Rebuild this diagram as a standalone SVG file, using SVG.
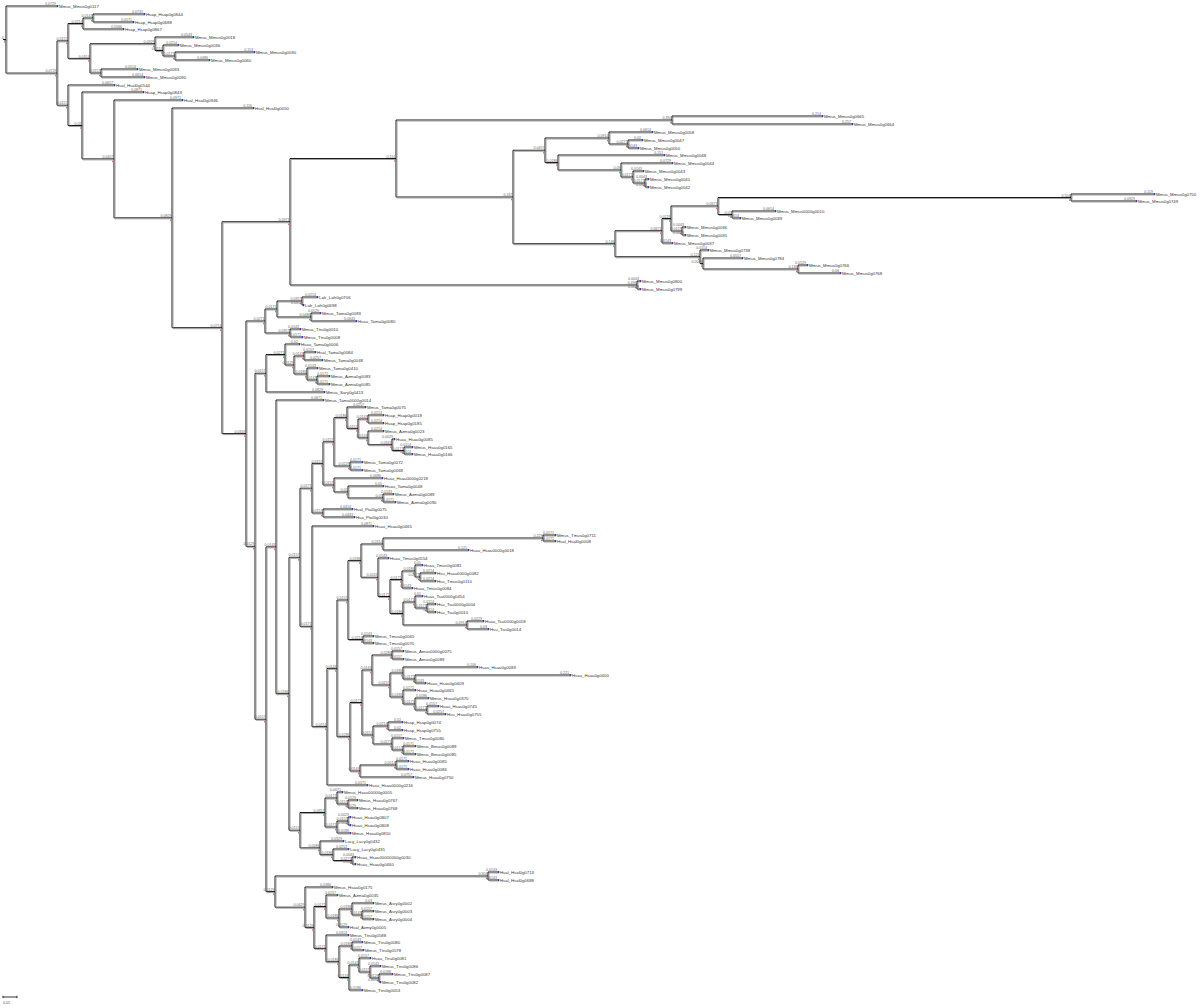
<svg xmlns="http://www.w3.org/2000/svg" width="1200" height="1008" viewBox="0 0 1200 1008">
<defs>
<style>
.e path{fill:none;stroke:#000;stroke-width:0.9}
.t{font-family:"Liberation Sans",Arial,sans-serif;font-size:4.3px;fill:#333}
.b{font-family:"Liberation Sans",Arial,sans-serif;font-size:3.6px;fill:#666;text-anchor:end}
.d{fill:#2233aa}
.r{stroke:#d33;stroke-width:0.7;fill:none}
.sb{stroke:#000;stroke-width:0.8;fill:none}
</style>
<filter id="sh" x="-2%" y="-2%" width="104%" height="104%"><feOffset in="SourceAlpha" dx="0.8" dy="0.8" result="o"/><feFlood flood-color="#9a9a9a"/><feComposite in2="o" operator="in"/><feMerge><feMergeNode/><feMergeNode in="SourceGraphic"/></feMerge></filter>
</defs>
<rect width="1200" height="1008" fill="#fff"/>
<g id="connectors" class="e" filter="url(#sh)">
<path d="M3,39.5H6"/>
<path d="M57,6H6V73.1H57"/>
<path d="M68,40.9H57V105.2H68"/>
<path d="M83,23.5H68V58.4H90"/>
<path d="M93,18H83V29H123"/>
<path d="M144,14H93V22H133"/>
<path d="M155,43.75H90V73H101"/>
<path d="M193,37H155V50.5H163"/>
<path d="M178,45H163V56H175"/>
<path d="M254,52H175V60H209"/>
<path d="M137,69H101V77H144"/>
<path d="M114,85H68V125.5H82"/>
<path d="M143,92H82V158.9H114"/>
<path d="M182,100H114V217.85H172"/>
<path d="M253,108H172V327.7H222"/>
<path d="M290,221.75H222V433.6H246"/>
<path d="M396,158.5H290V285H637"/>
<path d="M672,120H396V197H513"/>
<path d="M822,116H672V124H852"/>
<path d="M545,150.25H513V243.75H615"/>
<path d="M609,138H545V162.5H558"/>
<path d="M652,132H609V144H628"/>
<path d="M642,140H628V148H638"/>
<path d="M664,155H558V170H621"/>
<path d="M672,163H621V177H633"/>
<path d="M643,171H633V183H645"/>
<path d="M648,179H645V187H648"/>
<path d="M662,230.75H615V256.75H700"/>
<path d="M671,218.5H662V243H672"/>
<path d="M718,206H671V231H682"/>
<path d="M1071,197.5H718V214.5H732"/>
<path d="M1154,194H1071V201H1136"/>
<path d="M775,211H732V218H740"/>
<path d="M685,227H682V235H685"/>
<path d="M708,250H700V263.5H703"/>
<path d="M742,258H703V269H798"/>
<path d="M807,265H798V273H840"/>
<path d="M640,281H637V289H640"/>
<path d="M265,321H246V546.3H255"/>
<path d="M277,309H265V333H290"/>
<path d="M302,301H277V317H311"/>
<path d="M317,297H302V305H303"/>
<path d="M320,313H311V321H356"/>
<path d="M300,329H290V337H302"/>
<path d="M266,373.25H255V719.25H266"/>
<path d="M285,354.5H266V392H324"/>
<path d="M299,344H285V365H294"/>
<path d="M304,356H294V374H307"/>
<path d="M315,352H304V360H322"/>
<path d="M317,368H307V380H317"/>
<path d="M329,376H317V384H329"/>
<path d="M276,546.9H266V891.6H275"/>
<path d="M323,400H276V693.7H289"/>
<path d="M300,557.3H289V830.2H300"/>
<path d="M312,488.2H300V626.3H312"/>
<path d="M323,463.4H312V513H323"/>
<path d="M334,441.85H323V485H334"/>
<path d="M347,417.7H334V466H350"/>
<path d="M365,407H347V428.4H358"/>
<path d="M368,419H358V437.9H368"/>
<path d="M383,415H368V423H383"/>
<path d="M383,431H368V444.75H392"/>
<path d="M394,439H392V450.5H404"/>
<path d="M412,447H404V454H412"/>
<path d="M362,462H350V470H362"/>
<path d="M382,478H334V492H348"/>
<path d="M383,486H348V498H383"/>
<path d="M393,494H383V502H395"/>
<path d="M352,509H323V517H354"/>
<path d="M373,526H312V726.7H327"/>
<path d="M337,668.4H327V785H367"/>
<path d="M348,600H337V736.75H350"/>
<path d="M361,560.6H348V639.5H363"/>
<path d="M383,544H361V577.25H378"/>
<path d="M543,538H383V550H468"/>
<path d="M555,535H543V541H555"/>
<path d="M388,558H378V596.5H390"/>
<path d="M402,579.5H390V613.5H403"/>
<path d="M415,571H402V588H412"/>
<path d="M422,565H415V577H420"/>
<path d="M435,573H420V581H435"/>
<path d="M415,602H403V625H467"/>
<path d="M422,596H415V608H427"/>
<path d="M435,604H427V612H435"/>
<path d="M483,621H467V629H488"/>
<path d="M373,636H363V643H373"/>
<path d="M362,702.5H350V771H360"/>
<path d="M372,670H362V735H373"/>
<path d="M392,655H372V685H390"/>
<path d="M403,651H392V659H403"/>
<path d="M403,673H390V697H403"/>
<path d="M477,667H403V679H415"/>
<path d="M570,675H415V683H425"/>
<path d="M415,690H403V704H415"/>
<path d="M428,698H415V710H427"/>
<path d="M438,706H427V714H445"/>
<path d="M388,726H373V744H392"/>
<path d="M402,722H388V730H402"/>
<path d="M403,738H392V750H403"/>
<path d="M415,746H403V754H415"/>
<path d="M396,765H360V777H413"/>
<path d="M408,761H396V769H408"/>
<path d="M325,812.5H300V847.9H320"/>
<path d="M337,798H325V827H337"/>
<path d="M342,792H337V804H348"/>
<path d="M357,800H348V808H357"/>
<path d="M348,821H337V833H350"/>
<path d="M350,817H348V825H350"/>
<path d="M343,841H320V854.75H333"/>
<path d="M348,849H333V860.5H352"/>
<path d="M355,857H352V864H355"/>
<path d="M488,876H275V907.2H305"/>
<path d="M498,872H488V880H498"/>
<path d="M332,887H305V927.4H314"/>
<path d="M326,906.5H314V948.4H326"/>
<path d="M337,895H326V918H339"/>
<path d="M352,909H339V927H348"/>
<path d="M373,903H352V915H362"/>
<path d="M373,911H362V919H373"/>
<path d="M348,935H326V961.75H339"/>
<path d="M352,946H339V977.5H349"/>
<path d="M362,942H352V950H363"/>
<path d="M359,965H349V990H362"/>
<path d="M370,958H359V972H370"/>
<path d="M380,966H370V978H379"/>
<path d="M392,974H379V982H380"/>
</g>
<g id="internal-nodes">
<g id="root" transform="translate(6,39.5)"><text class="b" x="-2" y="-0.9">0</text><path class="r" d="M-1.5,1.8v1.5"/></g>
<g id="nA" transform="translate(57,73.1)"><text class="b" x="-0.5" y="-0.9">0.0729</text><path class="r" d="M-1.5,1.8v1.5"/></g>
<g id="nB" transform="translate(68,40.9)"><text class="b" x="-0.5" y="-0.9">0.0157</text><path class="r" d="M-1.5,1.8v1.5"/></g>
<g id="nC" transform="translate(83,23.5)"><text class="b" x="-0.5" y="-0.9">0.0214</text><path class="r" d="M-1.5,1.8v1.5"/></g>
<g id="nD" transform="translate(93,18)"><text class="b" x="-0.5" y="-0.9">0.0143</text><path class="r" d="M-1.5,1.8v1.5"/></g>
<g id="nE" transform="translate(90,58.4)"><text class="b" x="-0.5" y="-0.9">0.0314</text><path class="r" d="M-1.5,1.8v1.5"/></g>
<g id="nF" transform="translate(155,43.75)"><text class="b" x="-0.5" y="-0.9">0.0929</text><path class="r" d="M-1.5,1.8v1.5"/></g>
<g id="nG" transform="translate(163,50.5)"><text class="b" x="-0.5" y="-0.9">0.0114</text><path class="r" d="M-1.5,1.8v1.5"/></g>
<g id="nH" transform="translate(175,56)"><text class="b" x="-0.5" y="-0.9">0.0171</text><path class="r" d="M-1.5,1.8v1.5"/></g>
<g id="nI" transform="translate(101,73)"><text class="b" x="-0.5" y="-0.9">0.0157</text><path class="r" d="M-1.5,1.8v1.5"/></g>
<g id="nJ" transform="translate(68,105.2)"><text class="b" x="-0.5" y="-0.9">0.0157</text><path class="r" d="M-1.5,1.8v1.5"/></g>
<g id="nK" transform="translate(82,125.5)"><text class="b" x="-0.5" y="-0.9">0.02</text><path class="r" d="M-1.5,1.8v1.5"/></g>
<g id="nL" transform="translate(114,158.9)"><text class="b" x="-0.5" y="-0.9">0.0457</text><path class="r" d="M-1.5,1.8v1.5"/></g>
<g id="nM" transform="translate(172,217.85)"><text class="b" x="-0.5" y="-0.9">0.0829</text><path class="r" d="M-1.5,1.8v1.5"/></g>
<g id="nN" transform="translate(222,327.7)"><text class="b" x="-0.5" y="-0.9">0.0714</text><path class="r" d="M-1.5,1.8v1.5"/></g>
<g id="nO" transform="translate(290,221.75)"><text class="b" x="-0.5" y="-0.9">0.0971</text><path class="r" d="M-1.5,1.8v1.5"/></g>
<g id="nQ" transform="translate(396,158.5)"><text class="b" x="-0.5" y="-0.9">0.151</text><path class="r" d="M-1.5,1.8v1.5"/></g>
<g id="nR" transform="translate(672,120)"><text class="b" x="-0.5" y="-0.9">0.394</text><path class="r" d="M-1.5,1.8v1.5"/></g>
<g id="nS" transform="translate(513,197)"><text class="b" x="-0.5" y="-0.9">0.167</text><path class="r" d="M-1.5,1.8v1.5"/></g>
<g id="nT" transform="translate(545,150.25)"><text class="b" x="-0.5" y="-0.9">0.0457</text><path class="r" d="M-1.5,1.8v1.5"/></g>
<g id="nU" transform="translate(609,138)"><text class="b" x="-0.5" y="-0.9">0.0914</text><path class="r" d="M-1.5,1.8v1.5"/></g>
<g id="nV" transform="translate(628,144)"><text class="b" x="-0.5" y="-0.9">0.0271</text><path class="r" d="M-1.5,1.8v1.5"/></g>
<g id="nZ" transform="translate(558,162.5)"><text class="b" x="-0.5" y="-0.9">0.0186</text><path class="r" d="M-1.5,1.8v1.5"/></g>
<g id="nW" transform="translate(621,170)"><text class="b" x="-0.5" y="-0.9">0.09</text><path class="r" d="M-1.5,1.8v1.5"/></g>
<g id="nX" transform="translate(633,177)"><text class="b" x="-0.5" y="-0.9">0.0171</text><path class="r" d="M-1.5,1.8v1.5"/></g>
<g id="nY" transform="translate(645,183)"><text class="b" x="-0.5" y="-0.9">0.0171</text><path class="r" d="M-1.5,1.8v1.5"/></g>
<g id="nAA" transform="translate(615,243.75)"><text class="b" x="-0.5" y="-0.9">0.146</text><path class="r" d="M-1.5,1.8v1.5"/></g>
<g id="nAB" transform="translate(662,230.75)"><text class="b" x="-0.5" y="-0.9">0.0671</text><path class="r" d="M-1.5,1.8v1.5"/></g>
<g id="nAC" transform="translate(671,218.5)"><text class="b" x="-0.5" y="-0.9">0.0129</text><path class="r" d="M-1.5,1.8v1.5"/></g>
<g id="nAD" transform="translate(718,206)"><text class="b" x="-0.5" y="-0.9">0.0671</text><path class="r" d="M-1.5,1.8v1.5"/></g>
<g id="nAJ" transform="translate(1071,197.5)"><text class="b" x="-0.5" y="-0.9">0.504</text><path class="r" d="M-1.5,1.8v1.5"/></g>
<g id="nAE" transform="translate(732,214.5)"><text class="b" x="-0.5" y="-0.9">0.02</text><path class="r" d="M-1.5,1.8v1.5"/></g>
<g id="nAF" transform="translate(682,231)"><text class="b" x="-0.5" y="-0.9">0.0157</text><path class="r" d="M-1.5,1.8v1.5"/></g>
<g id="nAG" transform="translate(700,256.75)"><text class="b" x="-0.5" y="-0.9">0.121</text><path class="r" d="M-1.5,1.8v1.5"/></g>
<g id="nAI" transform="translate(703,263.5)"><text class="b" x="-0.5" y="-0.9">0.0043</text><path class="r" d="M-1.5,1.8v1.5"/></g>
<g id="nAH" transform="translate(798,269)"><text class="b" x="-0.5" y="-0.9">0.136</text><path class="r" d="M-1.5,1.8v1.5"/></g>
<g id="nAK" transform="translate(637,285)"><text class="b" x="-0.5" y="-0.9">0.496</text><path class="r" d="M-1.5,1.8v1.5"/></g>
<g id="nP" transform="translate(246,433.6)"><text class="b" x="-0.5" y="-0.9">0.0343</text><path class="r" d="M-1.5,1.8v1.5"/></g>
<g id="nPA" transform="translate(265,321)"><text class="b" x="-0.5" y="-0.9">0.0271</text><path class="r" d="M-1.5,1.8v1.5"/></g>
<g id="nPB" transform="translate(277,309)"><text class="b" x="-0.5" y="-0.9">0.0171</text><path class="r" d="M-1.5,1.8v1.5"/></g>
<g id="nPB1" transform="translate(302,301)"><text class="b" x="-0.5" y="-0.9">0.0357</text><path class="r" d="M-1.5,1.8v1.5"/></g>
<g id="nPB2" transform="translate(311,317)"><text class="b" x="-0.5" y="-0.9">0.0486</text><path class="r" d="M-1.5,1.8v1.5"/></g>
<g id="nPC" transform="translate(290,333)"><text class="b" x="-0.5" y="-0.9">0.0357</text><path class="r" d="M-1.5,1.8v1.5"/></g>
<g id="nPD" transform="translate(255,546.3)"><text class="b" x="-0.5" y="-0.9">0.0129</text><path class="r" d="M-1.5,1.8v1.5"/></g>
<g id="nN266" transform="translate(266,373.25)"><text class="b" x="-0.5" y="-0.9">0.0157</text><path class="r" d="M-1.5,1.8v1.5"/></g>
<g id="nN285" transform="translate(285,354.5)"><text class="b" x="-0.5" y="-0.9">0.0271</text><path class="r" d="M-1.5,1.8v1.5"/></g>
<g id="nN294" transform="translate(294,365)"><text class="b" x="-0.5" y="-0.9">0.0129</text><path class="r" d="M-1.5,1.8v1.5"/></g>
<g id="nN304" transform="translate(304,356)"><text class="b" x="-0.5" y="-0.9">0.0143</text><path class="r" d="M-1.5,1.8v1.5"/></g>
<g id="nN307" transform="translate(307,374)"><text class="b" x="-0.5" y="-0.9">0.0186</text><path class="r" d="M-1.5,1.8v1.5"/></g>
<g id="nN317" transform="translate(317,380)"><text class="b" x="-0.5" y="-0.9">0.0143</text><path class="r" d="M-1.5,1.8v1.5"/></g>
<g id="nPE" transform="translate(266,719.25)"><text class="b" x="-0.5" y="-0.9">0.0157</text><path class="r" d="M-1.5,1.8v1.5"/></g>
<g id="nPF" transform="translate(276,546.9)"><text class="b" x="-0.5" y="-0.9">0.0143</text><path class="r" d="M-1.5,1.8v1.5"/></g>
<g id="nPG" transform="translate(289,693.7)"><text class="b" x="-0.5" y="-0.9">0.0186</text><path class="r" d="M-1.5,1.8v1.5"/></g>
<g id="nPH" transform="translate(300,557.3)"><text class="b" x="-0.5" y="-0.9">0.0157</text><path class="r" d="M-1.5,1.8v1.5"/></g>
<g id="nX14" transform="translate(312,488.2)"><text class="b" x="-0.5" y="-0.9">0.0171</text><path class="r" d="M-1.5,1.8v1.5"/></g>
<g id="nX12" transform="translate(323,463.4)"><text class="b" x="-0.5" y="-0.9">0.0157</text><path class="r" d="M-1.5,1.8v1.5"/></g>
<g id="nX8" transform="translate(334,441.85)"><text class="b" x="-0.5" y="-0.9">0.0157</text><path class="r" d="M-1.5,1.8v1.5"/></g>
<g id="nX1" transform="translate(347,417.7)"><text class="b" x="-0.5" y="-0.9">0.0186</text><path class="r" d="M-1.5,1.8v1.5"/></g>
<g id="nX2" transform="translate(358,428.4)"><text class="b" x="-0.5" y="-0.9">0.0157</text><path class="r" d="M-1.5,1.8v1.5"/></g>
<g id="nX3" transform="translate(368,419)"><text class="b" x="-0.5" y="-0.9">0.0143</text><path class="r" d="M-1.5,1.8v1.5"/></g>
<g id="nX4" transform="translate(368,437.9)"><text class="b" x="-0.5" y="-0.9">0.0143</text><path class="r" d="M-1.5,1.8v1.5"/></g>
<g id="nX5" transform="translate(392,444.75)"><text class="b" x="-0.5" y="-0.9">0.0343</text><path class="r" d="M-1.5,1.8v1.5"/></g>
<g id="nX6" transform="translate(404,450.5)"><text class="b" x="-0.5" y="-0.9">0.0171</text><path class="r" d="M-1.5,1.8v1.5"/></g>
<g id="nX7" transform="translate(350,466)"><text class="b" x="-0.5" y="-0.9">0.0229</text><path class="r" d="M-1.5,1.8v1.5"/></g>
<g id="nX11" transform="translate(334,485)"><text class="b" x="-0.5" y="-0.9">0.0157</text><path class="r" d="M-1.5,1.8v1.5"/></g>
<g id="nX10" transform="translate(348,492)"><text class="b" x="-0.5" y="-0.9">0.02</text><path class="r" d="M-1.5,1.8v1.5"/></g>
<g id="nX9" transform="translate(383,498)"><text class="b" x="-0.5" y="-0.9">0.05</text><path class="r" d="M-1.5,1.8v1.5"/></g>
<g id="nX13" transform="translate(323,513)"><text class="b" x="-0.5" y="-0.9">0.0157</text><path class="r" d="M-1.5,1.8v1.5"/></g>
<g id="nPI" transform="translate(312,626.3)"><text class="b" x="-0.5" y="-0.9">0.0171</text><path class="r" d="M-1.5,1.8v1.5"/></g>
<g id="nPJ" transform="translate(327,726.7)"><text class="b" x="-0.5" y="-0.9">0.0214</text><path class="r" d="M-1.5,1.8v1.5"/></g>
<g id="nPK" transform="translate(337,668.4)"><text class="b" x="-0.5" y="-0.9">0.0143</text><path class="r" d="M-1.5,1.8v1.5"/></g>
<g id="nPL" transform="translate(348,600)"><text class="b" x="-0.5" y="-0.9">0.0157</text><path class="r" d="M-1.5,1.8v1.5"/></g>
<g id="nPU" transform="translate(361,560.6)"><text class="b" x="-0.5" y="-0.9">0.0186</text><path class="r" d="M-1.5,1.8v1.5"/></g>
<g id="nPR" transform="translate(383,544)"><text class="b" x="-0.5" y="-0.9">0.0314</text><path class="r" d="M-1.5,1.8v1.5"/></g>
<g id="nPS" transform="translate(543,538)"><text class="b" x="-0.5" y="-0.9">0.229</text><path class="r" d="M-1.5,1.8v1.5"/></g>
<g id="nPT" transform="translate(378,577.25)"><text class="b" x="-0.5" y="-0.9">0.0243</text><path class="r" d="M-1.5,1.8v1.5"/></g>
<g id="nPV" transform="translate(390,596.5)"><text class="b" x="-0.5" y="-0.9">0.0171</text><path class="r" d="M-1.5,1.8v1.5"/></g>
<g id="nPW" transform="translate(402,579.5)"><text class="b" x="-0.5" y="-0.9">0.0171</text><path class="r" d="M-1.5,1.8v1.5"/></g>
<g id="nPX" transform="translate(415,571)"><text class="b" x="-0.5" y="-0.9">0.0186</text><path class="r" d="M-1.5,1.8v1.5"/></g>
<g id="nPY" transform="translate(420,577)"><text class="b" x="-0.5" y="-0.9">0.0071</text><path class="r" d="M-1.5,1.8v1.5"/></g>
<g id="nPZ" transform="translate(403,613.5)"><text class="b" x="-0.5" y="-0.9">0.0186</text><path class="r" d="M-1.5,1.8v1.5"/></g>
<g id="nQA" transform="translate(415,602)"><text class="b" x="-0.5" y="-0.9">0.0171</text><path class="r" d="M-1.5,1.8v1.5"/></g>
<g id="nQB" transform="translate(427,608)"><text class="b" x="-0.5" y="-0.9">0.0171</text><path class="r" d="M-1.5,1.8v1.5"/></g>
<g id="nQC" transform="translate(467,625)"><text class="b" x="-0.5" y="-0.9">0.0914</text><path class="r" d="M-1.5,1.8v1.5"/></g>
<g id="nQD" transform="translate(363,639.5)"><text class="b" x="-0.5" y="-0.9">0.0214</text><path class="r" d="M-1.5,1.8v1.5"/></g>
<g id="nPM" transform="translate(350,736.75)"><text class="b" x="-0.5" y="-0.9">0.0186</text><path class="r" d="M-1.5,1.8v1.5"/></g>
<g id="nQQ" transform="translate(362,702.5)"><text class="b" x="-0.5" y="-0.9">0.0171</text><path class="r" d="M-1.5,1.8v1.5"/></g>
<g id="nQL" transform="translate(372,670)"><text class="b" x="-0.5" y="-0.9">0.0143</text><path class="r" d="M-1.5,1.8v1.5"/></g>
<g id="nQK" transform="translate(392,655)"><text class="b" x="-0.5" y="-0.9">0.0286</text><path class="r" d="M-1.5,1.8v1.5"/></g>
<g id="nQJ" transform="translate(390,685)"><text class="b" x="-0.5" y="-0.9">0.0257</text><path class="r" d="M-1.5,1.8v1.5"/></g>
<g id="nQH" transform="translate(403,673)"><text class="b" x="-0.5" y="-0.9">0.0186</text><path class="r" d="M-1.5,1.8v1.5"/></g>
<g id="nQI" transform="translate(415,679)"><text class="b" x="-0.5" y="-0.9">0.0171</text><path class="r" d="M-1.5,1.8v1.5"/></g>
<g id="nQG" transform="translate(403,697)"><text class="b" x="-0.5" y="-0.9">0.0186</text><path class="r" d="M-1.5,1.8v1.5"/></g>
<g id="nQF" transform="translate(415,704)"><text class="b" x="-0.5" y="-0.9">0.0171</text><path class="r" d="M-1.5,1.8v1.5"/></g>
<g id="nQE" transform="translate(427,710)"><text class="b" x="-0.5" y="-0.9">0.0171</text><path class="r" d="M-1.5,1.8v1.5"/></g>
<g id="nQP" transform="translate(373,735)"><text class="b" x="-0.5" y="-0.9">0.0157</text><path class="r" d="M-1.5,1.8v1.5"/></g>
<g id="nQO" transform="translate(388,726)"><text class="b" x="-0.5" y="-0.9">0.0214</text><path class="r" d="M-1.5,1.8v1.5"/></g>
<g id="nQN" transform="translate(392,744)"><text class="b" x="-0.5" y="-0.9">0.0271</text><path class="r" d="M-1.5,1.8v1.5"/></g>
<g id="nQM" transform="translate(403,750)"><text class="b" x="-0.5" y="-0.9">0.0157</text><path class="r" d="M-1.5,1.8v1.5"/></g>
<g id="nQS" transform="translate(360,771)"><text class="b" x="-0.5" y="-0.9">0.0143</text><path class="r" d="M-1.5,1.8v1.5"/></g>
<g id="nQR" transform="translate(396,765)"><text class="b" x="-0.5" y="-0.9">0.0514</text><path class="r" d="M-1.5,1.8v1.5"/></g>
<g id="nPN" transform="translate(300,830.2)"><text class="b" x="-0.5" y="-0.9">0.0157</text><path class="r" d="M-1.5,1.8v1.5"/></g>
<g id="nPO" transform="translate(325,812.5)"><text class="b" x="-0.5" y="-0.9">0.0357</text><path class="r" d="M-1.5,1.8v1.5"/></g>
<g id="nQU" transform="translate(337,798)"><text class="b" x="-0.5" y="-0.9">0.0171</text><path class="r" d="M-1.5,1.8v1.5"/></g>
<g id="nQT" transform="translate(348,804)"><text class="b" x="-0.5" y="-0.9">0.0157</text><path class="r" d="M-1.5,1.8v1.5"/></g>
<g id="nQW" transform="translate(337,827)"><text class="b" x="-0.5" y="-0.9">0.0171</text><path class="r" d="M-1.5,1.8v1.5"/></g>
<g id="nQV" transform="translate(348,821)"><text class="b" x="-0.5" y="-0.9">0.0157</text><path class="r" d="M-1.5,1.8v1.5"/></g>
<g id="nPP" transform="translate(320,847.9)"><text class="b" x="-0.5" y="-0.9">0.0286</text><path class="r" d="M-1.5,1.8v1.5"/></g>
<g id="nQY" transform="translate(333,854.75)"><text class="b" x="-0.5" y="-0.9">0.0186</text><path class="r" d="M-1.5,1.8v1.5"/></g>
<g id="nQX" transform="translate(352,860.5)"><text class="b" x="-0.5" y="-0.9">0.0271</text><path class="r" d="M-1.5,1.8v1.5"/></g>
<g id="nPQ" transform="translate(275,891.6)"><text class="b" x="-0.5" y="-0.9">0.0129</text><path class="r" d="M-1.5,1.8v1.5"/></g>
<g id="nQZ" transform="translate(488,876)"><text class="b" x="-0.5" y="-0.9">0.304</text><path class="r" d="M-1.5,1.8v1.5"/></g>
<g id="nR305" transform="translate(305,907.2)"><text class="b" x="-0.5" y="-0.9">0.0429</text><path class="r" d="M-1.5,1.8v1.5"/></g>
<g id="nR314" transform="translate(314,927.4)"><text class="b" x="-0.5" y="-0.9">0.0129</text><path class="r" d="M-1.5,1.8v1.5"/></g>
<g id="nR326" transform="translate(326,906.5)"><text class="b" x="-0.5" y="-0.9">0.0171</text><path class="r" d="M-1.5,1.8v1.5"/></g>
<g id="nR339" transform="translate(339,918)"><text class="b" x="-0.5" y="-0.9">0.0186</text><path class="r" d="M-1.5,1.8v1.5"/></g>
<g id="nR352" transform="translate(352,909)"><text class="b" x="-0.5" y="-0.9">0.0186</text><path class="r" d="M-1.5,1.8v1.5"/></g>
<g id="nR362" transform="translate(362,915)"><text class="b" x="-0.5" y="-0.9">0.0143</text><path class="r" d="M-1.5,1.8v1.5"/></g>
<g id="nB1" transform="translate(326,948.4)"><text class="b" x="-0.5" y="-0.9">0.0171</text><path class="r" d="M-1.5,1.8v1.5"/></g>
<g id="nB2" transform="translate(339,961.75)"><text class="b" x="-0.5" y="-0.9">0.0186</text><path class="r" d="M-1.5,1.8v1.5"/></g>
<g id="nB3" transform="translate(352,946)"><text class="b" x="-0.5" y="-0.9">0.0186</text><path class="r" d="M-1.5,1.8v1.5"/></g>
<g id="nB4" transform="translate(349,977.5)"><text class="b" x="-0.5" y="-0.9">0.0143</text><path class="r" d="M-1.5,1.8v1.5"/></g>
<g id="nB5" transform="translate(359,965)"><text class="b" x="-0.5" y="-0.9">0.0143</text><path class="r" d="M-1.5,1.8v1.5"/></g>
<g id="nB6" transform="translate(370,972)"><text class="b" x="-0.5" y="-0.9">0.0157</text><path class="r" d="M-1.5,1.8v1.5"/></g>
<g id="nB7" transform="translate(379,978)"><text class="b" x="-0.5" y="-0.9">0.0129</text><path class="r" d="M-1.5,1.8v1.5"/></g>
</g>
<g id="tips">
<g id="t1" transform="translate(57,6)"><circle class="d" cx="0.6" r="0.9"/><text class="b" x="-1" y="-0.9">0.0729</text><text class="t" x="2" y="1.6">Mmus_Mmus0g0117</text></g>
<g id="t2" transform="translate(144,14)"><circle class="d" cx="0.6" r="0.9"/><text class="b" x="-1" y="-0.9">0.0731</text><text class="t" x="2" y="1.6">Hsap_Hsap0g0844</text></g>
<g id="t3" transform="translate(133,22)"><circle class="d" cx="0.6" r="0.9"/><text class="b" x="-1" y="-0.9">0.0571</text><text class="t" x="2" y="1.6">Hsap_Hsap0g0688</text></g>
<g id="t4" transform="translate(123,29)"><circle class="d" cx="0.6" r="0.9"/><text class="b" x="-1" y="-0.9">0.0566</text><text class="t" x="2" y="1.6">Hsap_Hsap0g0867</text></g>
<g id="t5" transform="translate(193,37)"><circle class="d" cx="0.6" r="0.9"/><text class="b" x="-1" y="-0.9">0.0543</text><text class="t" x="2" y="1.6">Mmus_Mmus0g0018</text></g>
<g id="t6" transform="translate(178,45)"><circle class="d" cx="0.6" r="0.9"/><text class="b" x="-1" y="-0.9">0.0214</text><text class="t" x="2" y="1.6">Mmus_Mmus0g0036</text></g>
<g id="t7" transform="translate(254,52)"><circle class="d" cx="0.6" r="0.9"/><text class="b" x="-1" y="-0.9">0.113</text><text class="t" x="2" y="1.6">Mmus_Mmus0g0030</text></g>
<g id="t8" transform="translate(209,60)"><circle class="d" cx="0.6" r="0.9"/><text class="b" x="-1" y="-0.9">0.0486</text><text class="t" x="2" y="1.6">Mmus_Mmus0g0060</text></g>
<g id="t9" transform="translate(137,69)"><circle class="d" cx="0.6" r="0.9"/><text class="b" x="-1" y="-0.9">0.0514</text><text class="t" x="2" y="1.6">Mmus_Mmus0g0093</text></g>
<g id="t10" transform="translate(144,77)"><circle class="d" cx="0.6" r="0.9"/><text class="b" x="-1" y="-0.9">0.0614</text><text class="t" x="2" y="1.6">Mmus_Mmus0g0090</text></g>
<g id="t11" transform="translate(114,85)"><circle class="d" cx="0.6" r="0.9"/><text class="b" x="-1" y="-0.9">0.0657</text><text class="t" x="2" y="1.6">Hsal_Hsal0g0544</text></g>
<g id="t12" transform="translate(143,92)"><circle class="d" cx="0.6" r="0.9"/><text class="b" x="-1" y="-0.9">0.0871</text><text class="t" x="2" y="1.6">Hsap_Hsap0g0843</text></g>
<g id="t13" transform="translate(182,100)"><circle class="d" cx="0.6" r="0.9"/><text class="b" x="-1" y="-0.9">0.0971</text><text class="t" x="2" y="1.6">Hsal_Hsal0g0946</text></g>
<g id="t14" transform="translate(253,108)"><circle class="d" cx="0.6" r="0.9"/><text class="b" x="-1" y="-0.9">0.116</text><text class="t" x="2" y="1.6">Hsal_Hsal0g0050</text></g>
<g id="t15" transform="translate(822,116)"><circle class="d" cx="0.6" r="0.9"/><text class="b" x="-1" y="-0.9">0.214</text><text class="t" x="2" y="1.6">Mmus_Mmus0g0665</text></g>
<g id="t16" transform="translate(852,124)"><circle class="d" cx="0.6" r="0.9"/><text class="b" x="-1" y="-0.9">0.257</text><text class="t" x="2" y="1.6">Mmus_Mmus0g0664</text></g>
<g id="t17" transform="translate(652,132)"><circle class="d" cx="0.6" r="0.9"/><text class="b" x="-1" y="-0.9">0.0614</text><text class="t" x="2" y="1.6">Mmus_Mmus0g0058</text></g>
<g id="t18" transform="translate(642,140)"><circle class="d" cx="0.6" r="0.9"/><text class="b" x="-1" y="-0.9">0.02</text><text class="t" x="2" y="1.6">Mmus_Mmus0g0047</text></g>
<g id="t19" transform="translate(638,148)"><circle class="d" cx="0.6" r="0.9"/><text class="b" x="-1" y="-0.9">0.0143</text><text class="t" x="2" y="1.6">Mmus_Mmus0g0050</text></g>
<g id="t20" transform="translate(664,155)"><circle class="d" cx="0.6" r="0.9"/><text class="b" x="-1" y="-0.9">0.151</text><text class="t" x="2" y="1.6">Mmus_Mmus0g0048</text></g>
<g id="t21" transform="translate(672,163)"><circle class="d" cx="0.6" r="0.9"/><text class="b" x="-1" y="-0.9">0.0729</text><text class="t" x="2" y="1.6">Mmus_Mmus0g0044</text></g>
<g id="t22" transform="translate(643,171)"><circle class="d" cx="0.6" r="0.9"/><text class="b" x="-1" y="-0.9">0.0143</text><text class="t" x="2" y="1.6">Mmus_Mmus0g0043</text></g>
<g id="t23" transform="translate(648,179)"><circle class="d" cx="0.6" r="0.9"/><text class="b" x="-1" y="-0.9">0.0043</text><text class="t" x="2" y="1.6">Mmus_Mmus0g0041</text></g>
<g id="t24" transform="translate(648,187)"><circle class="d" cx="0.6" r="0.9"/><text class="b" x="-1" y="-0.9">0.0043</text><text class="t" x="2" y="1.6">Mmus_Mmus0g0042</text></g>
<g id="t25" transform="translate(1154,194)"><circle class="d" cx="0.6" r="0.9"/><text class="b" x="-1" y="-0.9">0.119</text><text class="t" x="2" y="1.6">Mmus_Mmus0g0750</text></g>
<g id="t26" transform="translate(1136,201)"><circle class="d" cx="0.6" r="0.9"/><text class="b" x="-1" y="-0.9">0.0929</text><text class="t" x="2" y="1.6">Mmus_Mmus0g0749</text></g>
<g id="t27" transform="translate(775,211)"><circle class="d" cx="0.6" r="0.9"/><text class="b" x="-1" y="-0.9">0.0614</text><text class="t" x="2" y="1.6">Mmus_Mmus0000g0010</text></g>
<g id="t28" transform="translate(740,218)"><circle class="d" cx="0.6" r="0.9"/><text class="b" x="-1" y="-0.9">0.0114</text><text class="t" x="2" y="1.6">Mmus_Mmus0g0039</text></g>
<g id="t29" transform="translate(685,227)"><circle class="d" cx="0.6" r="0.9"/><text class="b" x="-1" y="-0.9">0.0043</text><text class="t" x="2" y="1.6">Mmus_Mmus0g0036</text></g>
<g id="t30" transform="translate(685,235)"><circle class="d" cx="0.6" r="0.9"/><text class="b" x="-1" y="-0.9">0.0043</text><text class="t" x="2" y="1.6">Mmus_Mmus0g0035</text></g>
<g id="t31" transform="translate(672,243)"><circle class="d" cx="0.6" r="0.9"/><text class="b" x="-1" y="-0.9">0.0143</text><text class="t" x="2" y="1.6">Mmus_Mmus0g0037</text></g>
<g id="t32" transform="translate(708,250)"><circle class="d" cx="0.6" r="0.9"/><text class="b" x="-1" y="-0.9">0.0114</text><text class="t" x="2" y="1.6">Mmus_Mmus0g0738</text></g>
<g id="t33" transform="translate(742,258)"><circle class="d" cx="0.6" r="0.9"/><text class="b" x="-1" y="-0.9">0.0557</text><text class="t" x="2" y="1.6">Mmus_Mmus0g0784</text></g>
<g id="t34" transform="translate(807,265)"><circle class="d" cx="0.6" r="0.9"/><text class="b" x="-1" y="-0.9">0.0129</text><text class="t" x="2" y="1.6">Mmus_Mmus0g0766</text></g>
<g id="t35" transform="translate(840,273)"><circle class="d" cx="0.6" r="0.9"/><text class="b" x="-1" y="-0.9">0.06</text><text class="t" x="2" y="1.6">Mmus_Mmus0g0768</text></g>
<g id="t36" transform="translate(640,281)"><circle class="d" cx="0.6" r="0.9"/><text class="b" x="-1" y="-0.9">0.0043</text><text class="t" x="2" y="1.6">Mmus_Mmus0g0800</text></g>
<g id="t37" transform="translate(640,289)"><circle class="d" cx="0.6" r="0.9"/><text class="b" x="-1" y="-0.9">0.0043</text><text class="t" x="2" y="1.6">Mmus_Mmus0g0799</text></g>
<g id="t38" transform="translate(317,297)"><circle class="d" cx="0.6" r="0.9"/><text class="b" x="-1" y="-0.9">0.0214</text><text class="t" x="2" y="1.6">Lafr_Lafr0g0706</text></g>
<g id="t39" transform="translate(303,305)"><circle class="d" cx="0.6" r="0.9"/><text class="b" x="-1" y="-0.9">0.0014</text><text class="t" x="2" y="1.6">Lafr_Lafr0g0698</text></g>
<g id="t40" transform="translate(320,313)"><circle class="d" cx="0.6" r="0.9"/><text class="b" x="-1" y="-0.9">0.0129</text><text class="t" x="2" y="1.6">Mmus_Tama0g0083</text></g>
<g id="t41" transform="translate(356,321)"><circle class="d" cx="0.6" r="0.9"/><text class="b" x="-1" y="-0.9">0.0643</text><text class="t" x="2" y="1.6">Hsau_Tama0g0080</text></g>
<g id="t42" transform="translate(300,329)"><circle class="d" cx="0.6" r="0.9"/><text class="b" x="-1" y="-0.9">0.0143</text><text class="t" x="2" y="1.6">Mmus_Ttru0g0010</text></g>
<g id="t43" transform="translate(302,337)"><circle class="d" cx="0.6" r="0.9"/><text class="b" x="-1" y="-0.9">0.0171</text><text class="t" x="2" y="1.6">Mmus_Ttru0g0008</text></g>
<g id="t44" transform="translate(299,344)"><circle class="d" cx="0.6" r="0.9"/><text class="b" x="-1" y="-0.9">0.02</text><text class="t" x="2" y="1.6">Hsau_Tama0g0006</text></g>
<g id="t45" transform="translate(315,352)"><circle class="d" cx="0.6" r="0.9"/><text class="b" x="-1" y="-0.9">0.0157</text><text class="t" x="2" y="1.6">Hsal_Tama0g0084</text></g>
<g id="t46" transform="translate(322,360)"><circle class="d" cx="0.6" r="0.9"/><text class="b" x="-1" y="-0.9">0.0257</text><text class="t" x="2" y="1.6">Mmus_Tama0g0048</text></g>
<g id="t47" transform="translate(317,368)"><circle class="d" cx="0.6" r="0.9"/><text class="b" x="-1" y="-0.9">0.0143</text><text class="t" x="2" y="1.6">Mmus_Tama0g0410</text></g>
<g id="t48" transform="translate(329,376)"><circle class="d" cx="0.6" r="0.9"/><text class="b" x="-1" y="-0.9">0.0171</text><text class="t" x="2" y="1.6">Mmus_Azma0g0083</text></g>
<g id="t49" transform="translate(329,384)"><circle class="d" cx="0.6" r="0.9"/><text class="b" x="-1" y="-0.9">0.0171</text><text class="t" x="2" y="1.6">Mmus_Azma0g0085</text></g>
<g id="t50" transform="translate(324,392)"><circle class="d" cx="0.6" r="0.9"/><text class="b" x="-1" y="-0.9">0.0829</text><text class="t" x="2" y="1.6">Mmus_Sary0g0413</text></g>
<g id="t51" transform="translate(323,400)"><circle class="d" cx="0.6" r="0.9"/><text class="b" x="-1" y="-0.9">0.0671</text><text class="t" x="2" y="1.6">Mmus_Tama0000g0014</text></g>
<g id="t52" transform="translate(365,407)"><circle class="d" cx="0.6" r="0.9"/><text class="b" x="-1" y="-0.9">0.0257</text><text class="t" x="2" y="1.6">Mmus_Tama0g0075</text></g>
<g id="t53" transform="translate(383,415)"><circle class="d" cx="0.6" r="0.9"/><text class="b" x="-1" y="-0.9">0.0214</text><text class="t" x="2" y="1.6">Hsap_Hsap0g0018</text></g>
<g id="t54" transform="translate(383,423)"><circle class="d" cx="0.6" r="0.9"/><text class="b" x="-1" y="-0.9">0.0214</text><text class="t" x="2" y="1.6">Hsap_Hsap0g0185</text></g>
<g id="t55" transform="translate(383,431)"><circle class="d" cx="0.6" r="0.9"/><text class="b" x="-1" y="-0.9">0.0214</text><text class="t" x="2" y="1.6">Mmus_Azma0g0023</text></g>
<g id="t56" transform="translate(394,439)"><circle class="d" cx="0.6" r="0.9"/><text class="b" x="-1" y="-0.9">0.0029</text><text class="t" x="2" y="1.6">Hsau_Hsau0g0085</text></g>
<g id="t57" transform="translate(412,447)"><circle class="d" cx="0.6" r="0.9"/><text class="b" x="-1" y="-0.9">0.0114</text><text class="t" x="2" y="1.6">Mmus_Hsau0g0165</text></g>
<g id="t58" transform="translate(412,454)"><circle class="d" cx="0.6" r="0.9"/><text class="b" x="-1" y="-0.9">0.0114</text><text class="t" x="2" y="1.6">Mmus_Hsau0g0166</text></g>
<g id="t59" transform="translate(362,462)"><circle class="d" cx="0.6" r="0.9"/><text class="b" x="-1" y="-0.9">0.0171</text><text class="t" x="2" y="1.6">Mmus_Tama0g0072</text></g>
<g id="t60" transform="translate(362,470)"><circle class="d" cx="0.6" r="0.9"/><text class="b" x="-1" y="-0.9">0.0171</text><text class="t" x="2" y="1.6">Mmus_Tama0g0068</text></g>
<g id="t61" transform="translate(382,478)"><circle class="d" cx="0.6" r="0.9"/><text class="b" x="-1" y="-0.9">0.0686</text><text class="t" x="2" y="1.6">Hsau_Hsau0000g0218</text></g>
<g id="t62" transform="translate(383,486)"><circle class="d" cx="0.6" r="0.9"/><text class="b" x="-1" y="-0.9">0.05</text><text class="t" x="2" y="1.6">Hsau_Tama0g0048</text></g>
<g id="t63" transform="translate(393,494)"><circle class="d" cx="0.6" r="0.9"/><text class="b" x="-1" y="-0.9">0.0143</text><text class="t" x="2" y="1.6">Mmus_Azma0g0089</text></g>
<g id="t64" transform="translate(395,502)"><circle class="d" cx="0.6" r="0.9"/><text class="b" x="-1" y="-0.9">0.0171</text><text class="t" x="2" y="1.6">Mmus_Azma0g0090</text></g>
<g id="t65" transform="translate(352,509)"><circle class="d" cx="0.6" r="0.9"/><text class="b" x="-1" y="-0.9">0.0414</text><text class="t" x="2" y="1.6">Hsal_Ptal0g0075</text></g>
<g id="t66" transform="translate(354,517)"><circle class="d" cx="0.6" r="0.9"/><text class="b" x="-1" y="-0.9">0.0443</text><text class="t" x="2" y="1.6">Hsa_Ptal0g0030</text></g>
<g id="t67" transform="translate(373,526)"><circle class="d" cx="0.6" r="0.9"/><text class="b" x="-1" y="-0.9">0.0871</text><text class="t" x="2" y="1.6">Hsau_Hsau0g0465</text></g>
<g id="t68" transform="translate(555,535)"><circle class="d" cx="0.6" r="0.9"/><text class="b" x="-1" y="-0.9">0.0171</text><text class="t" x="2" y="1.6">Mmus_Tmus0g0711</text></g>
<g id="t69" transform="translate(555,541)"><circle class="d" cx="0.6" r="0.9"/><text class="b" x="-1" y="-0.9">0.0171</text><text class="t" x="2" y="1.6">Hsal_Hsal0g0008</text></g>
<g id="t70" transform="translate(468,550)"><circle class="d" cx="0.6" r="0.9"/><text class="b" x="-1" y="-0.9">0.121</text><text class="t" x="2" y="1.6">Hsau_Hsau0000g0018</text></g>
<g id="t71" transform="translate(388,558)"><circle class="d" cx="0.6" r="0.9"/><text class="b" x="-1" y="-0.9">0.0143</text><text class="t" x="2" y="1.6">Hsau_Tmus0g0554</text></g>
<g id="t72" transform="translate(422,565)"><circle class="d" cx="0.6" r="0.9"/><text class="b" x="-1" y="-0.9">0.01</text><text class="t" x="2" y="1.6">Hsau_Tmus0g0081</text></g>
<g id="t73" transform="translate(435,573)"><circle class="d" cx="0.6" r="0.9"/><text class="b" x="-1" y="-0.9">0.0214</text><text class="t" x="2" y="1.6">Hsu_Hsau0000g0082</text></g>
<g id="t74" transform="translate(435,581)"><circle class="d" cx="0.6" r="0.9"/><text class="b" x="-1" y="-0.9">0.0214</text><text class="t" x="2" y="1.6">Hsu_Tmus0g0110</text></g>
<g id="t75" transform="translate(412,588)"><circle class="d" cx="0.6" r="0.9"/><text class="b" x="-1" y="-0.9">0.0143</text><text class="t" x="2" y="1.6">Hsau_Tmus0g0084</text></g>
<g id="t76" transform="translate(422,596)"><circle class="d" cx="0.6" r="0.9"/><text class="b" x="-1" y="-0.9">0.01</text><text class="t" x="2" y="1.6">Hsau_Tsu0000g0454</text></g>
<g id="t77" transform="translate(435,604)"><circle class="d" cx="0.6" r="0.9"/><text class="b" x="-1" y="-0.9">0.0114</text><text class="t" x="2" y="1.6">Hsu_Tsu0000g0004</text></g>
<g id="t78" transform="translate(435,612)"><circle class="d" cx="0.6" r="0.9"/><text class="b" x="-1" y="-0.9">0.0114</text><text class="t" x="2" y="1.6">Hsu_Tsu0g0010</text></g>
<g id="t79" transform="translate(483,621)"><circle class="d" cx="0.6" r="0.9"/><text class="b" x="-1" y="-0.9">0.0229</text><text class="t" x="2" y="1.6">Hsau_Tsu0000g0018</text></g>
<g id="t80" transform="translate(488,629)"><circle class="d" cx="0.6" r="0.9"/><text class="b" x="-1" y="-0.9">0.03</text><text class="t" x="2" y="1.6">Hsu_Tsu0g0014</text></g>
<g id="t81" transform="translate(373,636)"><circle class="d" cx="0.6" r="0.9"/><text class="b" x="-1" y="-0.9">0.0143</text><text class="t" x="2" y="1.6">Mmus_Tmus0g0065</text></g>
<g id="t82" transform="translate(373,643)"><circle class="d" cx="0.6" r="0.9"/><text class="b" x="-1" y="-0.9">0.0143</text><text class="t" x="2" y="1.6">Mmus_Tmus0g0070</text></g>
<g id="t83" transform="translate(403,651)"><circle class="d" cx="0.6" r="0.9"/><text class="b" x="-1" y="-0.9">0.0157</text><text class="t" x="2" y="1.6">Mmus_Amus0000g0075</text></g>
<g id="t84" transform="translate(403,659)"><circle class="d" cx="0.6" r="0.9"/><text class="b" x="-1" y="-0.9">0.0157</text><text class="t" x="2" y="1.6">Mmus_Amus0g0089</text></g>
<g id="t85" transform="translate(477,667)"><circle class="d" cx="0.6" r="0.9"/><text class="b" x="-1" y="-0.9">0.106</text><text class="t" x="2" y="1.6">Hsau_Hsau0g0089</text></g>
<g id="t86" transform="translate(570,675)"><circle class="d" cx="0.6" r="0.9"/><text class="b" x="-1" y="-0.9">0.221</text><text class="t" x="2" y="1.6">Hsau_Hsau0g0400</text></g>
<g id="t87" transform="translate(425,683)"><circle class="d" cx="0.6" r="0.9"/><text class="b" x="-1" y="-0.9">0.0143</text><text class="t" x="2" y="1.6">Hsau_Hsau0g0409</text></g>
<g id="t88" transform="translate(415,690)"><circle class="d" cx="0.6" r="0.9"/><text class="b" x="-1" y="-0.9">0.0171</text><text class="t" x="2" y="1.6">Hsau_Hsau0g0465</text></g>
<g id="t89" transform="translate(428,698)"><circle class="d" cx="0.6" r="0.9"/><text class="b" x="-1" y="-0.9">0.0186</text><text class="t" x="2" y="1.6">Mmus_Hsau0g0370</text></g>
<g id="t90" transform="translate(438,706)"><circle class="d" cx="0.6" r="0.9"/><text class="b" x="-1" y="-0.9">0.0157</text><text class="t" x="2" y="1.6">Hsau_Hsau0g0745</text></g>
<g id="t91" transform="translate(445,714)"><circle class="d" cx="0.6" r="0.9"/><text class="b" x="-1" y="-0.9">0.0257</text><text class="t" x="2" y="1.6">Hsu_Hsau0g0755</text></g>
<g id="t92" transform="translate(402,722)"><circle class="d" cx="0.6" r="0.9"/><text class="b" x="-1" y="-0.9">0.02</text><text class="t" x="2" y="1.6">Hsap_Hsap0g0074</text></g>
<g id="t93" transform="translate(402,730)"><circle class="d" cx="0.6" r="0.9"/><text class="b" x="-1" y="-0.9">0.02</text><text class="t" x="2" y="1.6">Hsap_Hsap0g0755</text></g>
<g id="t94" transform="translate(403,738)"><circle class="d" cx="0.6" r="0.9"/><text class="b" x="-1" y="-0.9">0.0157</text><text class="t" x="2" y="1.6">Mmus_Tmus0g0080</text></g>
<g id="t94b" transform="translate(415,746)"><circle class="d" cx="0.6" r="0.9"/><text class="b" x="-1" y="-0.9">0.0171</text><text class="t" x="2" y="1.6">Mmus_Bmus0g0089</text></g>
<g id="t94c" transform="translate(415,754)"><circle class="d" cx="0.6" r="0.9"/><text class="b" x="-1" y="-0.9">0.0171</text><text class="t" x="2" y="1.6">Mmus_Bmus0g0085</text></g>
<g id="t96" transform="translate(408,761)"><circle class="d" cx="0.6" r="0.9"/><text class="b" x="-1" y="-0.9">0.0171</text><text class="t" x="2" y="1.6">Hsau_Hsau0g0085</text></g>
<g id="t96b" transform="translate(408,769)"><circle class="d" cx="0.6" r="0.9"/><text class="b" x="-1" y="-0.9">0.0171</text><text class="t" x="2" y="1.6">Hsau_Hsau0g0086</text></g>
<g id="t97" transform="translate(413,777)"><circle class="d" cx="0.6" r="0.9"/><text class="b" x="-1" y="-0.9">0.0757</text><text class="t" x="2" y="1.6">Mmus_Hsau0g0750</text></g>
<g id="t95" transform="translate(367,785)"><circle class="d" cx="0.6" r="0.9"/><text class="b" x="-1" y="-0.9">0.0571</text><text class="t" x="2" y="1.6">Hsau_Hsau0000g0216</text></g>
<g id="t98" transform="translate(342,792)"><circle class="d" cx="0.6" r="0.9"/><text class="b" x="-1" y="-0.9">0.0071</text><text class="t" x="2" y="1.6">Mmus_Hsau00000g0005</text></g>
<g id="t99" transform="translate(357,800)"><circle class="d" cx="0.6" r="0.9"/><text class="b" x="-1" y="-0.9">0.0129</text><text class="t" x="2" y="1.6">Mmus_Hsau0g0767</text></g>
<g id="t100" transform="translate(357,808)"><circle class="d" cx="0.6" r="0.9"/><text class="b" x="-1" y="-0.9">0.0129</text><text class="t" x="2" y="1.6">Mmus_Hsau0g0768</text></g>
<g id="t101" transform="translate(350,817)"><circle class="d" cx="0.6" r="0.9"/><text class="b" x="-1" y="-0.9">0.0029</text><text class="t" x="2" y="1.6">Hsau_Hsau0g0807</text></g>
<g id="t102" transform="translate(350,825)"><circle class="d" cx="0.6" r="0.9"/><text class="b" x="-1" y="-0.9">0.0029</text><text class="t" x="2" y="1.6">Hsau_Hsau0g0808</text></g>
<g id="t103" transform="translate(350,833)"><circle class="d" cx="0.6" r="0.9"/><text class="b" x="-1" y="-0.9">0.0186</text><text class="t" x="2" y="1.6">Mmus_Hsau0g0810</text></g>
<g id="t104" transform="translate(343,841)"><circle class="d" cx="0.6" r="0.9"/><text class="b" x="-1" y="-0.9">0.0329</text><text class="t" x="2" y="1.6">Lucy_Lucy0g0432</text></g>
<g id="t105" transform="translate(348,849)"><circle class="d" cx="0.6" r="0.9"/><text class="b" x="-1" y="-0.9">0.0214</text><text class="t" x="2" y="1.6">Lucy_Lucy0g0435</text></g>
<g id="t106" transform="translate(355,857)"><circle class="d" cx="0.6" r="0.9"/><text class="b" x="-1" y="-0.9">0.0043</text><text class="t" x="2" y="1.6">Hsau_Hsau00000000g0030</text></g>
<g id="t107" transform="translate(355,864)"><circle class="d" cx="0.6" r="0.9"/><text class="b" x="-1" y="-0.9">0.0043</text><text class="t" x="2" y="1.6">Hsau_Hsau0g0460</text></g>
<g id="t108" transform="translate(498,872)"><circle class="d" cx="0.6" r="0.9"/><text class="b" x="-1" y="-0.9">0.0143</text><text class="t" x="2" y="1.6">Hsal_Hsal0g0713</text></g>
<g id="t109" transform="translate(498,880)"><circle class="d" cx="0.6" r="0.9"/><text class="b" x="-1" y="-0.9">0.0143</text><text class="t" x="2" y="1.6">Hsal_Hsal0g0688</text></g>
<g id="t110" transform="translate(332,887)"><circle class="d" cx="0.6" r="0.9"/><text class="b" x="-1" y="-0.9">0.0386</text><text class="t" x="2" y="1.6">Mmus_Hsau0g0175</text></g>
<g id="t111" transform="translate(337,895)"><circle class="d" cx="0.6" r="0.9"/><text class="b" x="-1" y="-0.9">0.0157</text><text class="t" x="2" y="1.6">Mmus_Azma0g0035</text></g>
<g id="t112" transform="translate(373,903)"><circle class="d" cx="0.6" r="0.9"/><text class="b" x="-1" y="-0.9">0.03</text><text class="t" x="2" y="1.6">Mmus_Asry0g0002</text></g>
<g id="t113" transform="translate(373,911)"><circle class="d" cx="0.6" r="0.9"/><text class="b" x="-1" y="-0.9">0.0157</text><text class="t" x="2" y="1.6">Mmus_Asry0g0003</text></g>
<g id="t114" transform="translate(373,919)"><circle class="d" cx="0.6" r="0.9"/><text class="b" x="-1" y="-0.9">0.0157</text><text class="t" x="2" y="1.6">Mmus_Asry0g0004</text></g>
<g id="t115" transform="translate(348,927)"><circle class="d" cx="0.6" r="0.9"/><text class="b" x="-1" y="-0.9">0.0129</text><text class="t" x="2" y="1.6">Hsal_Azmy0g0005</text></g>
<g id="t116" transform="translate(348,935)"><circle class="d" cx="0.6" r="0.9"/><text class="b" x="-1" y="-0.9">0.0314</text><text class="t" x="2" y="1.6">Mmus_Ttru0g0588</text></g>
<g id="t117" transform="translate(362,942)"><circle class="d" cx="0.6" r="0.9"/><text class="b" x="-1" y="-0.9">0.0143</text><text class="t" x="2" y="1.6">Mmus_Ttru0g0080</text></g>
<g id="t118" transform="translate(363,950)"><circle class="d" cx="0.6" r="0.9"/><text class="b" x="-1" y="-0.9">0.0157</text><text class="t" x="2" y="1.6">Mmus_Ttru0g0578</text></g>
<g id="t119" transform="translate(370,958)"><circle class="d" cx="0.6" r="0.9"/><text class="b" x="-1" y="-0.9">0.0157</text><text class="t" x="2" y="1.6">Hsau_Ttru0g0081</text></g>
<g id="t120" transform="translate(380,966)"><circle class="d" cx="0.6" r="0.9"/><text class="b" x="-1" y="-0.9">0.0143</text><text class="t" x="2" y="1.6">Mmus_Ttru0g0086</text></g>
<g id="t121" transform="translate(392,974)"><circle class="d" cx="0.6" r="0.9"/><text class="b" x="-1" y="-0.9">0.0186</text><text class="t" x="2" y="1.6">Mmus_Ttru0g0087</text></g>
<g id="t122" transform="translate(380,982)"><circle class="d" cx="0.6" r="0.9"/><text class="b" x="-1" y="-0.9">0.0014</text><text class="t" x="2" y="1.6">Mmus_Ttru0g0082</text></g>
<g id="t123" transform="translate(362,990)"><circle class="d" cx="0.6" r="0.9"/><text class="b" x="-1" y="-0.9">0.0186</text><text class="t" x="2" y="1.6">Mmus_Ttru0g0053</text></g>
</g>
<g id="scale-bar">
<path class="sb" d="M3,997H17M3,995.8V998.2M17,995.8V998.2"/>
<text class="t" x="3" y="1003.5" style="fill:#555;font-size:3.6px">0.05</text>
</g>
</svg>
